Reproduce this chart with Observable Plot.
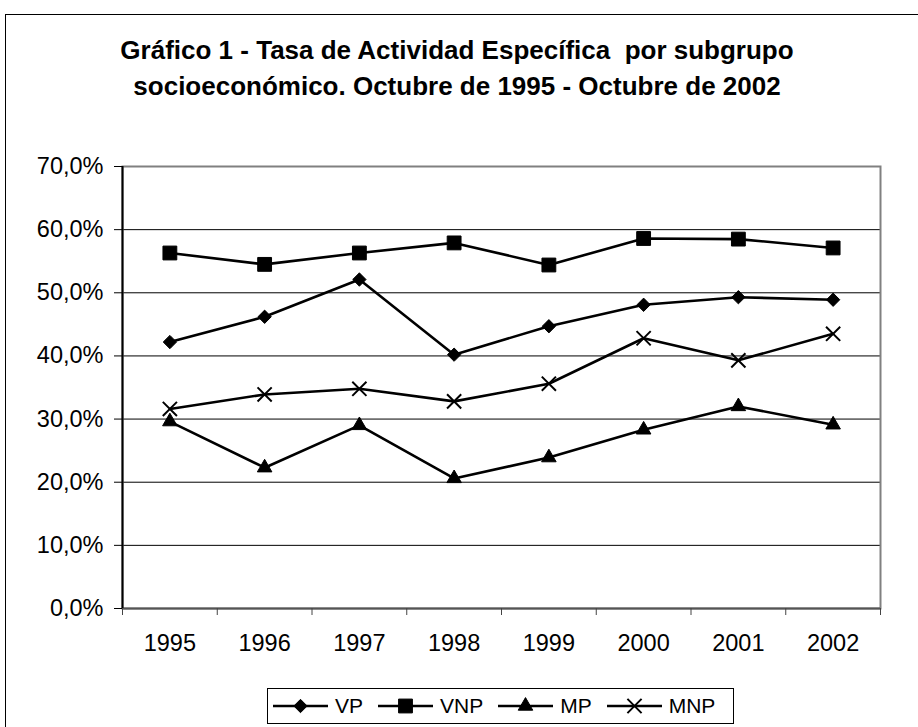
<!DOCTYPE html>
<html>
<head>
<meta charset="utf-8">
<script src="https://cdn.jsdelivr.net/npm/d3@7"></script>
<script src="https://cdn.jsdelivr.net/npm/@observablehq/plot@0.6"></script>
<style>
  html, body { margin: 0; padding: 0; background: #fff; }
  body { width: 918px; height: 727px; overflow: hidden; position: relative; font-family: "Liberation Sans", Arial, sans-serif; }
  #frame { position: absolute; left: 5px; top: 14px; width: 920px; height: 720px; border: 1px solid #000; box-sizing: border-box; }
  #title { position: absolute; left: 0; top: 32px; width: 914px; text-align: center; font-weight: bold; font-size: 26px; line-height: 36px; color: #000; }
  #chart { position: absolute; left: 0; top: 150px; }
  #legend { position: absolute; left: 267px; top: 688px; height: 36px; border: 1px solid #000; box-sizing: border-box; display: flex; align-items: center; padding: 0 18px 0 5px; font-size: 21px; background: #fff; }
  .item { display: flex; align-items: center; margin-right: 15px; }
  .item:last-child { margin-right: 0; }
  .item span { margin-left: 7px; }
</style>
</head>
<body>
<div id="frame"></div>
<div id="title">Gráfico 1 - Tasa de Actividad Específica&nbsp; por subgrupo<br>socioeconómico. Octubre de 1995 - Octubre de 2002</div>
<div id="chart"></div>
<div id="legend"></div>
<script>
const years = [1995, 1996, 1997, 1998, 1999, 2000, 2001, 2002];
const seriesNames = ["VP", "VNP", "MP", "MNP"];
const VP  = [42.2, 46.2, 52.1, 40.2, 44.7, 48.1, 49.3, 48.9];
const VNP = [56.3, 54.5, 56.3, 57.9, 54.4, 58.6, 58.5, 57.1];
const MP  = [29.6, 22.3, 29.0, 20.6, 23.9, 28.3, 32.0, 29.1];
const MNP = [31.6, 33.9, 34.8, 32.8, 35.6, 42.8, 39.3, 43.5];
const yTicks = [0, 10, 20, 30, 40, 50, 60, 70];

const seriesValues = {VP, VNP, MP, MNP};
const data = seriesNames.flatMap(s => years.map((yr, i) => ({series: s, year: yr, value: seriesValues[s][i]})));

const symbols = {VP: "diamond2", VNP: "square", MP: "triangle", MNP: "times"};
const radii = {VP: 6, VNP: 7.8, MP: 5.4, MNP: 6.5};

const boundaries = years.map(y => y - 0.5).concat([years[years.length - 1] + 0.5]);
const fmt = d => d.toFixed(1).replace(".", ",") + "%";

const dotMarks = seriesNames.map(s => Plot.dot(data.filter(d => d.series === s), {
  x: "year", y: "value", symbol: () => symbols[s], r: radii[s],
  fill: s === "MNP" ? "none" : "black",
  stroke: "black", strokeWidth: s === "MNP" ? 2 : 1
}));

const plot = Plot.plot({
  width: 918, height: 510,
  marginTop: 16, marginBottom: 52, marginLeft: 122, marginRight: 38,
  style: {fontFamily: "'Liberation Sans', Arial, sans-serif", fontSize: "23.5px", color: "black", background: "transparent", overflow: "visible"},
  x: {type: "linear", domain: [boundaries[0], boundaries[boundaries.length - 1]]},
  y: {domain: [yTicks[0], yTicks[yTicks.length - 1]]},
  symbol: {type: "identity"},
  marks: [
    Plot.gridY(yTicks.slice(1), {stroke: "black", strokeOpacity: 1, strokeWidth: 1}),
    Plot.frame({stroke: "#808080", strokeWidth: 2}),
    Plot.ruleY([yTicks[0]], {stroke: "#555", strokeWidth: 2}),
    Plot.ruleX([boundaries[0]], {stroke: "black", strokeWidth: 2}),
    Plot.axisY({ticks: yTicks, tickFormat: fmt, tickSize: 8, tickPadding: 11, fontSize: 23.5, label: null}),
    Plot.axisX({ticks: years, tickFormat: d => String(d), tickSize: 0, tickPadding: 26, fontSize: 23.5, label: null}),
    Plot.axisX({ticks: boundaries, tickFormat: () => "", tickSize: 7, label: null, stroke: "#444"}),
    Plot.line(data, {x: "year", y: "value", z: "series", stroke: "black", strokeWidth: 2.6}),
    ...dotMarks
  ]
});
document.getElementById("chart").appendChild(plot);

// Legend
const legend = d3.select("#legend");
const symMap = {VP: d3.symbolDiamond2, VNP: d3.symbolSquare, MP: d3.symbolTriangle, MNP: d3.symbolTimes};
seriesNames.forEach(s => {
  const item = legend.append("div").attr("class", "item");
  const svg = item.append("svg").attr("width", 55).attr("height", 20);
  svg.append("line").attr("x1", 0).attr("x2", 55).attr("y1", 10).attr("y2", 10).attr("stroke", "black").attr("stroke-width", 2.6);
  const r = radii[s];
  svg.append("path").attr("transform", "translate(27.5,10)")
    .attr("d", d3.symbol(symMap[s], r * r * Math.PI)())
    .attr("fill", s === "MNP" ? "none" : "black")
    .attr("stroke", "black").attr("stroke-width", s === "MNP" ? 2 : 1);
  item.append("span").text(s);
});
</script>
</body>
</html>
